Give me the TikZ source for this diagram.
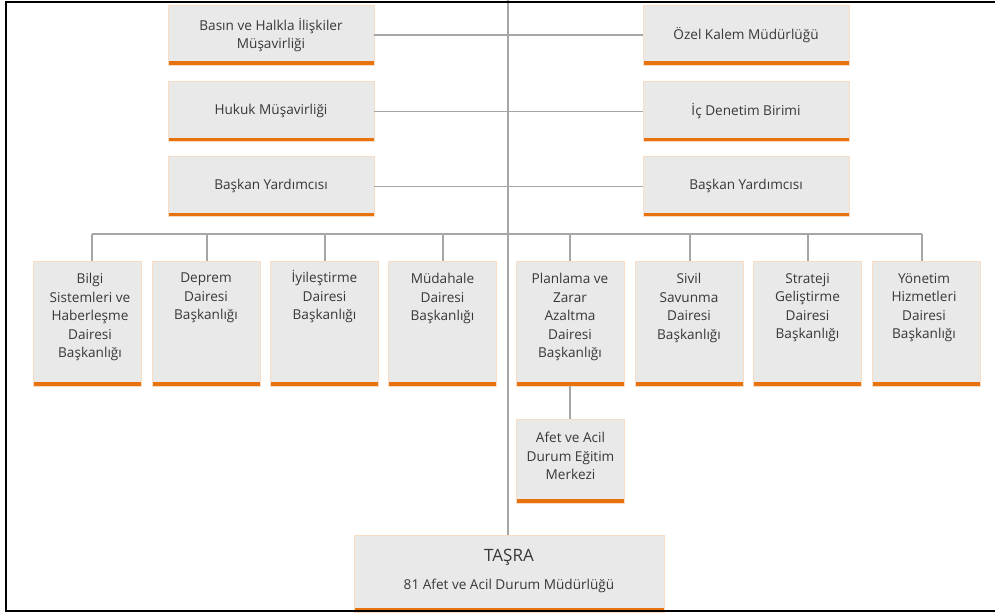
\documentclass[tikz,border=0pt]{standalone}
\usepackage{fontspec}
\setmainfont{Open Sans}
\definecolor{boxfill}{HTML}{E9E9E9}
\definecolor{boxedge}{HTML}{F8DCC4}
\definecolor{barorange}{HTML}{E8730E}
\definecolor{linegray}{HTML}{A6A6A6}
\definecolor{txtgray}{HTML}{383838}
\begin{document}
\begin{tikzpicture}[x=1pt,y=-1pt,
  box/.style={draw=boxedge, line width=0.5pt, fill=boxfill, inner sep=0pt,
    path picture={\fill[barorange] (path picture bounding box.south west) rectangle ([yshift=4pt]path picture bounding box.south east);}},
  topbox/.style={box, minimum width=206pt, minimum height=60pt},
  unitbox/.style={box, minimum width=108pt, minimum height=125pt},
  txt/.style={text=txtgray, font=\fontsize{13.6}{18.5}\selectfont, align=center, inner sep=0pt},
  conn/.style={draw=linegray, line width=1.4pt},
  frameline/.style={draw=black, line width=1.8pt}]
\useasboundingbox (0,0) rectangle (995,615);
% central spine
\coordinate (spinetop) at (508,0);
% top boxes
\node[topbox] (l1) at (271,35) {};
\node[topbox] (l2) at (271,111.5) {};
\node[topbox] (l3) at (271,186.5) {};
\node[topbox] (r1) at (746,35) {};
\node[topbox] (r2) at (746,111.5) {};
\node[topbox] (r3) at (746,186.5) {};
\node[txt] (l1t) at (271,35) {Basın ve Halkla İlişkiler\\Müşavirliği};
\node[txt] (l2t) at (271,111) {Hukuk Müşavirliği};
\node[txt] (l3t) at (271,186) {Başkan Yardımcısı};
\node[txt] (r1t) at (746,35) {Özel Kalem Müdürlüğü};
\node[txt] (r2t) at (746,111) {İç Denetim Birimi};
\node[txt] (r3t) at (746,186) {Başkan Yardımcısı};
% unit boxes
\node[unitbox] (b1) at (87.5,323.5) {};
\node[unitbox] (b2) at (206,323.5) {};
\node[unitbox] (b3) at (324,323.5) {};
\node[unitbox] (b4) at (442.5,323.5) {};
\node[unitbox] (b5) at (570.5,323.5) {};
\node[unitbox] (b6) at (689,323.5) {};
\node[unitbox] (b7) at (807.5,323.5) {};
\node[unitbox] (b8) at (926.5,323.5) {};
\node[txt, anchor=north] (b1t) at (90,273) {Bilgi\\Sistemleri ve\\Haberleşme\\Dairesi\\Başkanlığı};
\node[txt, anchor=north] (b2t) at (206,273) {Deprem\\Dairesi\\Başkanlığı};
\node[txt, anchor=north] (b3t) at (324.5,270.5) {İyileştirme\\Dairesi\\Başkanlığı};
\node[txt, anchor=north] (b4t) at (442.5,273) {Müdahale\\Dairesi\\Başkanlığı};
\node[txt, anchor=north] (b5t) at (570,273) {Planlama ve\\Zarar\\Azaltma\\Dairesi\\Başkanlığı};
\node[txt, anchor=north] (b6t) at (689,273) {Sivil\\Savunma\\Dairesi\\Başkanlığı};
\node[txt, anchor=north] (b7t) at (807.5,273) {Strateji\\Geliştirme\\Dairesi\\Başkanlığı};
\node[txt, anchor=north] (b8t) at (924,273) {Yönetim\\Hizmetleri\\Dairesi\\Başkanlığı};
% training centre
\node[box, minimum width=108pt, minimum height=84pt] (afet) at (570.5,461) {};
\node[txt, anchor=north] (afett) at (570.5,432) {Afet ve Acil\\Durum Eğitim\\Merkezi};
% province box
\node[box, minimum width=310pt, minimum height=77pt] (tasra) at (509,573.5) {};
\node[txt, font=\fontsize{17}{20}\selectfont] (tasrat) at (509,557) {TAŞRA};
\node[txt] (tasras) at (509,586) {81 Afet ve Acil Durum Müdürlüğü};
% connectors
\draw[conn] (spinetop) -- (spinetop |- tasra.north);
\draw[conn] (l1.east) -- (r1.west);
\draw[conn] (l2.east) -- (r2.west);
\draw[conn] (l3.east) -- (r3.west);
\coordinate (k1) at (92,234);
\coordinate (k2) at (207,234);
\coordinate (k3) at (325,234);
\coordinate (k4) at (443,234);
\coordinate (k5) at (570,234);
\coordinate (k6) at (690,234);
\coordinate (k7) at (808,234);
\coordinate (k8) at (922,234);
\draw[conn] (k1) -- (k8);
\foreach \i in {1,...,8} {\draw[conn] (k\i) -- (k\i |- b\i.north);}
\draw[conn] (k5 |- b5.south) -- (k5 |- afet.north);
% frame
\draw[frameline] (995,2) -- (6,2) -- (6,611) -- (995,611);
\end{tikzpicture}
\end{document}
